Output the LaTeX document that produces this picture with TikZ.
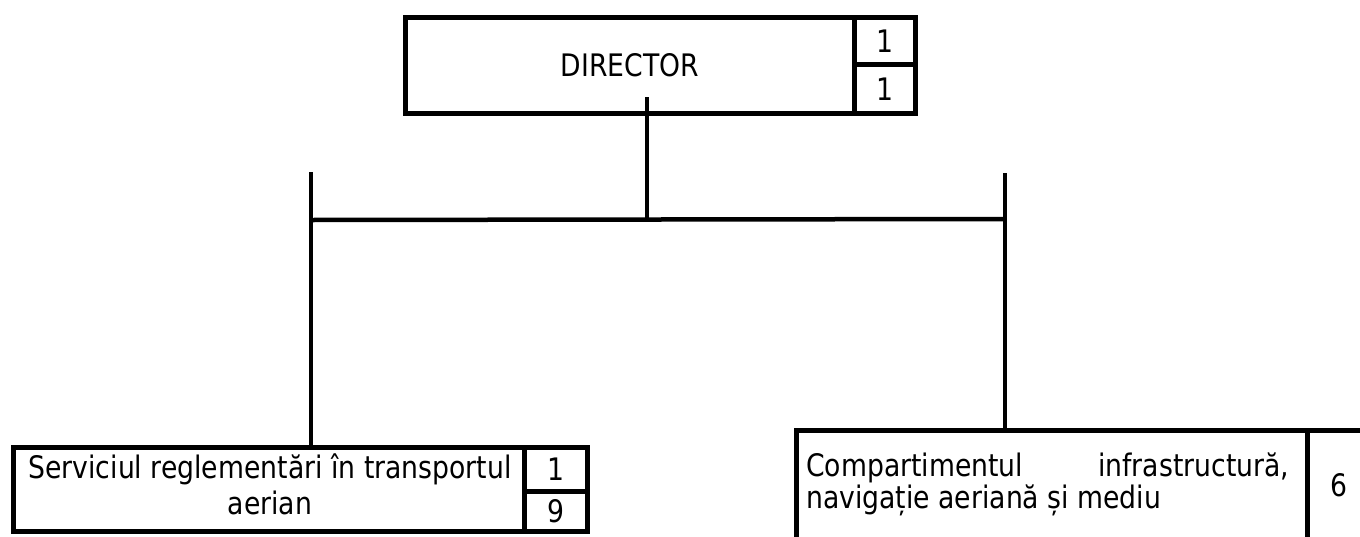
\documentclass[tikz,border=0pt]{standalone}
\usepackage{fontspec}
\setmainfont{DejaVu Sans}[FakeStretch=0.86]
\begin{document}
\begin{tikzpicture}[x=1pt,y=-1pt,
  cell/.style={draw, line width=4.5pt, inner sep=0pt, anchor=north west, font=\fontsize{31}{36}\selectfont},
  lbl/.style={font=\fontsize{31}{36}\selectfont, inner sep=0pt, anchor=base},
  link/.style={line width=4pt}]
\useasboundingbox (0,0) rectangle (1360,536);
\clip (0,0) rectangle (1360,536);
% Director
\node[cell, minimum width=449pt, minimum height=96pt] (dir) at (403,15) {DIRECTOR};
\node[cell, minimum width=61pt, minimum height=47pt] (dirA) at (852,15) {1};
\node[cell, minimum width=61pt, minimum height=49pt] (dirB) at (852,62) {1};
% Left box
\node[cell, minimum width=511pt, minimum height=84pt] (lbox) at (11,445) {};
\node[cell, minimum width=63pt, minimum height=44pt] (lboxA) at (522,445) {1};
\node[cell, minimum width=63pt, minimum height=40pt] (lboxB) at (522,489) {9};
\node[lbl] (lt1) at (270,478) {Serviciul reglementări în transportul};
\node[lbl] (lt2) at (270,514) {aerian};
% Right box
\node[cell, minimum width=511pt, minimum height=200pt] (rbox) at (794,428) {};
\node[cell, minimum width=64pt, minimum height=110pt] (rboxA) at (1305,428) {6};
\node[lbl, anchor=base west] (rt1) at (806,476) {\hbox to 483pt{Compartimentul\hfill infrastructură,}};
\node[lbl, anchor=base west] (rt2) at (806,508) {navigație aeriană și mediu};
% Connectors
\coordinate (dirIn) at (647,97);
\coordinate (jM) at (647,219);
\coordinate (jL) at (311,220);
\coordinate (jR) at (1005,219);
\coordinate (topL) at (311,172);
\coordinate (topR) at (1005,173);
\coordinate (inL) at (311,450);
\coordinate (inR) at (1005,428);
\draw[line width=3.5pt] (dirIn) -- (jM);
\draw[line width=4.5pt] (jL) -- (jR);
\draw[link] (topL) -- (inL);
\draw[link] (topR) -- (inR);
\end{tikzpicture}
\end{document}
